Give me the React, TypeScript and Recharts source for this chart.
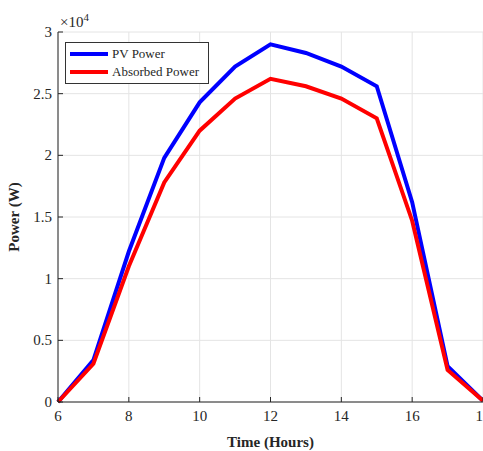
import React from 'react';
import { LineChart, Line, XAxis, YAxis, CartesianGrid } from 'recharts';

const hours = [6, 7, 8, 9, 10, 11, 12, 13, 14, 15, 16, 17, 18];
const pvPower = [0, 3400, 12200, 19800, 24300, 27200, 29000, 28300, 27200, 25600, 16200, 2900, 100];
const absorbedPower = [0, 3100, 11000, 17800, 22000, 24600, 26200, 25600, 24600, 23000, 14700, 2600, 100];
const xTicks = [6, 8, 10, 12, 14, 16, 18];
const yTicks = [0, 5000, 10000, 15000, 20000, 25000, 30000];

const data = hours.map((h, i) => ({ hour: h, pv: pvPower[i], absorbed: absorbedPower[i] }));

const FONT = '"Liberation Serif", "Times New Roman", serif';

function YTick(props: any) {
    const { x, y, payload } = props;
    return (
        <g>
            <line x1={x + 6} y1={y} x2={x + 11} y2={y} stroke="#262626" />
            <text x={x} y={y} dy={5} textAnchor="end" fontFamily={FONT} fontSize={15} fill="#262626">
                {payload.value / 10000}
            </text>
        </g>
    );
}

function XTick(props: any) {
    const { x, y, payload } = props;
    // use the scale coordinate so the last label sits on the axis end (clipped like the original)
    const cx = payload && typeof payload.coordinate === 'number' ? payload.coordinate : x;
    return (
        <g>
            <line x1={cx} y1={y - 6} x2={cx} y2={y - 11} stroke="#262626" />
            <text x={cx} y={y} dy={13} textAnchor="middle" fontFamily={FONT} fontSize={15} fill="#262626">
                {payload.value}
            </text>
        </g>
    );
}

const legendItems = [
    { name: 'PV Power', color: '#0000ff' },
    { name: 'Absorbed Power', color: '#ff0000' }
];

export default function App() {
    return (
        <div style={{ position: 'absolute', left: 0, top: 0, width: 483, height: 451, background: '#fff', overflow: 'hidden' }}>
            <LineChart width={483} height={451} data={data} margin={{ top: 32, right: 0, left: 0, bottom: 0 }}>
                <CartesianGrid stroke="#e4e4e4" />
                <XAxis
                    dataKey="hour"
                    type="number"
                    domain={[6, 18]}
                    ticks={xTicks}
                    height={49}
                    tickLine={false}
                    tickSize={0}
                    tickMargin={6}
                    stroke="#262626"
                    tick={<XTick />}
                    label={{ value: 'Time (Hours)', position: 'insideBottom', offset: 4, fontFamily: FONT, fontSize: 15, fontWeight: 'bold', fill: '#262626' }}
                />
                <YAxis
                    type="number"
                    domain={[0, 30000]}
                    ticks={yTicks}
                    width={58}
                    tickLine={false}
                    tickSize={0}
                    tickMargin={6}
                    stroke="#262626"
                    tick={<YTick />}
                    label={{ value: 'Power (W)', angle: -90, position: 'insideLeft', offset: 14, fontFamily: FONT, fontSize: 15, fontWeight: 'bold', fill: '#262626', style: { textAnchor: 'middle' } }}
                />
                <Line type="linear" dataKey="pv" name="PV Power" stroke="#0000ff" strokeWidth={4} dot={false} isAnimationActive={false} />
                <Line type="linear" dataKey="absorbed" name="Absorbed Power" stroke="#ff0000" strokeWidth={4} dot={false} isAnimationActive={false} />
            </LineChart>
            <div style={{ position: 'absolute', left: 65, top: 42, border: '1px solid #333', background: '#fff', padding: '2px 4px 2px 4px', width: 134 }}>
                {legendItems.map((item) => (
                    <div key={item.name} style={{ display: 'flex', alignItems: 'center', height: 18 }}>
                        <div style={{ width: 38, height: 4, background: item.color, marginRight: 4 }} />
                        <span style={{ fontFamily: FONT, fontSize: 13, color: '#262626' }}>{item.name}</span>
                    </div>
                ))}
            </div>
            <div style={{ position: 'absolute', left: 60, top: 11, fontFamily: FONT, fontSize: 15, color: '#262626' }}>
                ×10<sup style={{ fontSize: 11 }}>4</sup>
            </div>
        </div>
    );
}
